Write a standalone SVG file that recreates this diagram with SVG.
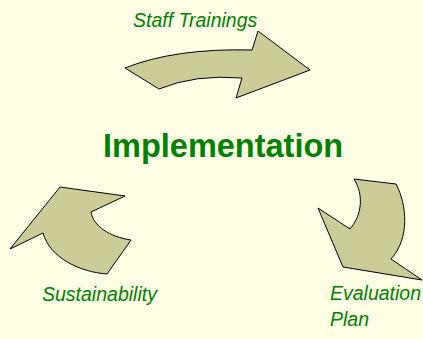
<svg xmlns="http://www.w3.org/2000/svg" width="423" height="339" viewBox="0 0 423 339">
  <style>
    .arrow { fill: #cccc99; stroke: #000000; stroke-width: 1; stroke-linejoin: miter; }
    .label { font-family: "Liberation Sans", Arial, sans-serif; font-style: italic; font-size: 19.5px; fill: #008000; }
    .title { font-family: "Liberation Sans", Arial, sans-serif; font-weight: bold; font-size: 32.5px; fill: #008000; }
  </style>
  <rect x="0" y="0" width="423" height="339" fill="#ffffe6"/>

  <g id="title">
    <text class="title" x="103" y="157">Implementation</text>
  </g>

  <g id="staff-trainings">
    <path class="arrow" d="M125,68 Q175,48 252,50 L258,31 L310,70 L236,98 L242,78 Q195,74 159,89 Z"/>
    <text class="label" x="133" y="27">Staff Trainings</text>
  </g>

  <g id="evaluation-plan">
    <path class="arrow" d="M354,179 L396,184 C407,205 410,238 391,259 L422,280 L343,267 L318,208 L350,229 C362,215 364,195 354,179 Z"/>
    <text class="label" x="330" y="300">Evaluation</text>
    <text class="label" x="330" y="326">Plan</text>
  </g>

  <g id="sustainability">
    <path class="arrow" d="M10,249 L60,187 L125,196 L91,212 C93,226 110,237 131,240 L107,274 C80,272 50,258 43,233 Z"/>
    <text class="label" x="42" y="301">Sustainability</text>
  </g>
</svg>
